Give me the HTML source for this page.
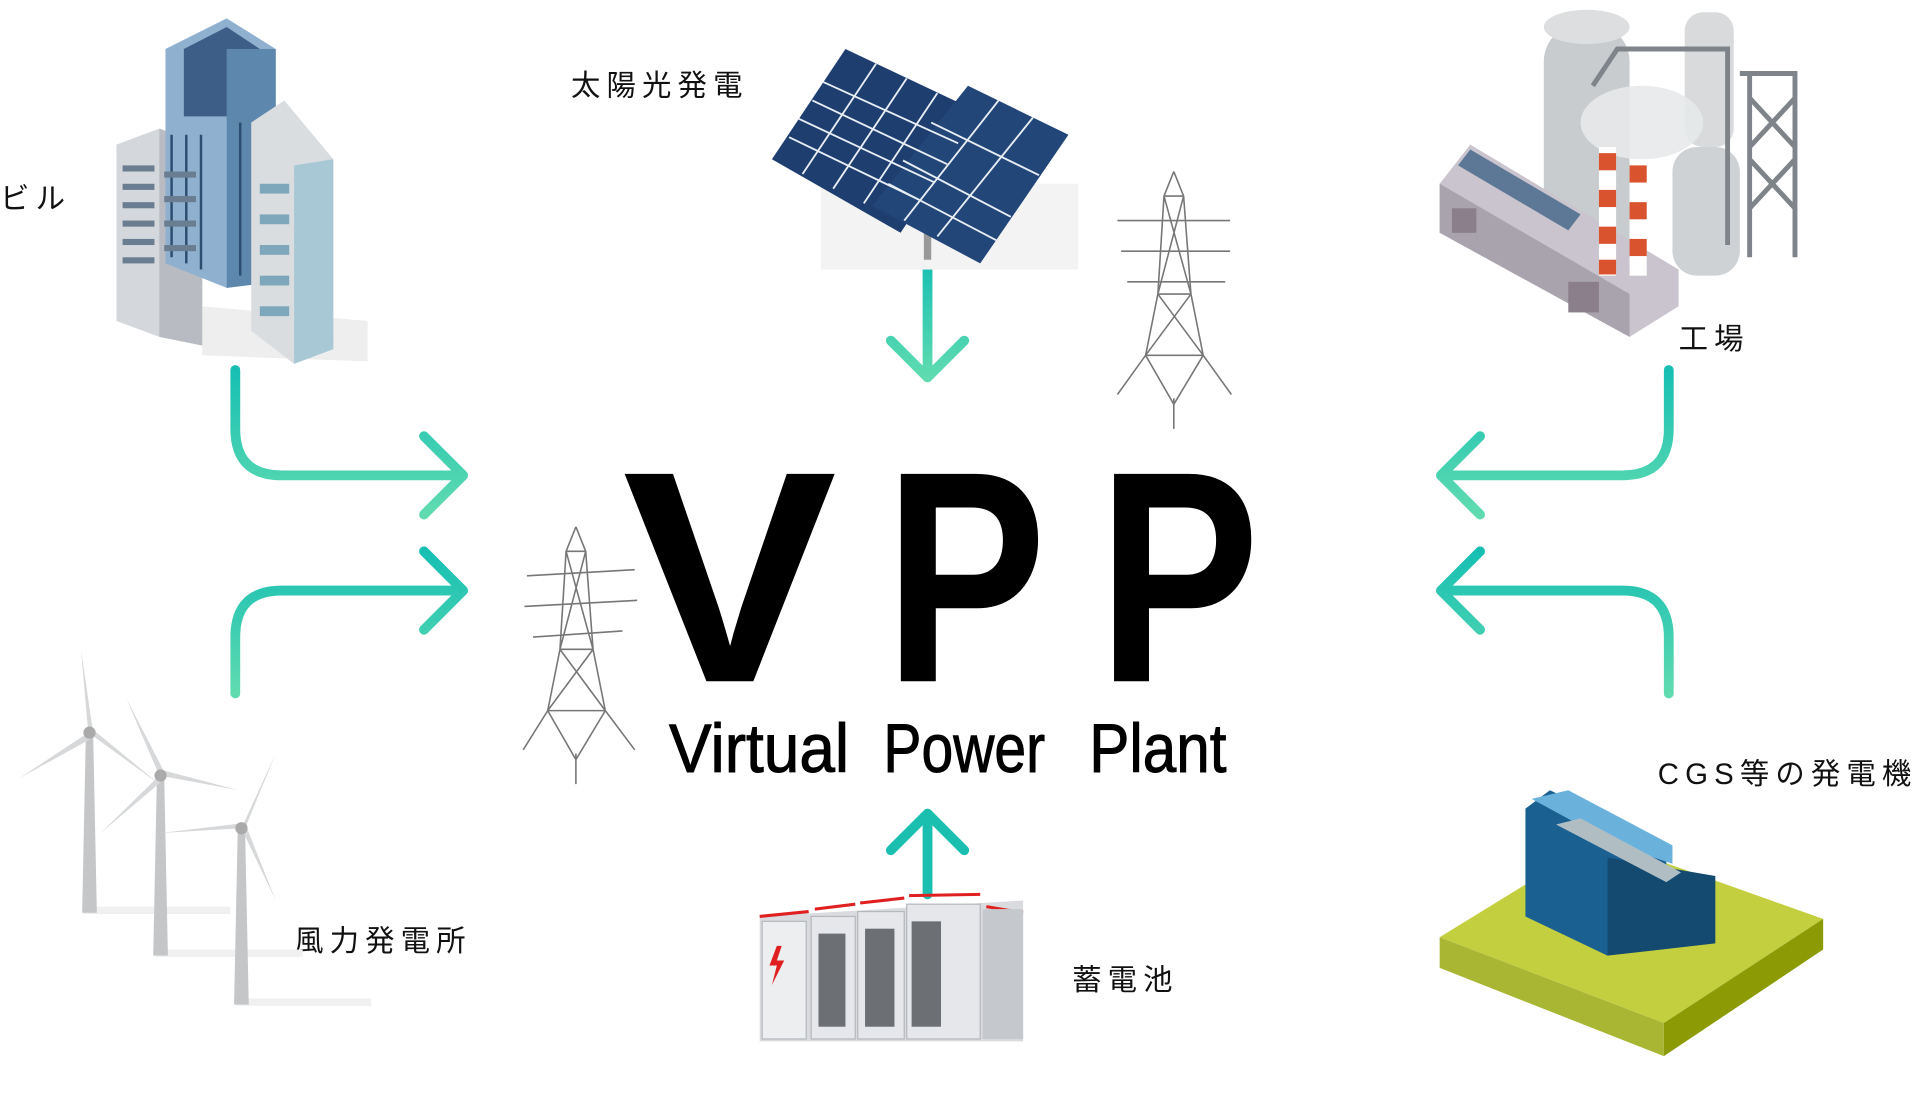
<!DOCTYPE html>
<html><head><meta charset="utf-8"><style>
html,body{margin:0;padding:0;background:#fff;}
svg{display:block;}
.lbl{font-family:"Liberation Sans","Noto Sans CJK JP",sans-serif;font-size:24px;fill:#111;letter-spacing:5px;}
</style></head><body>
<svg width="1920" height="1099" viewBox="0 0 1567 897" xmlns="http://www.w3.org/2000/svg">
<defs>
<linearGradient id="gv" x1="0" y1="0" x2="0" y2="1"><stop offset="0" stop-color="#17bfb3"/><stop offset="1" stop-color="#60dbb0"/></linearGradient>
<linearGradient id="gv2" x1="0" y1="1" x2="0" y2="0"><stop offset="0" stop-color="#60dbb0"/><stop offset="1" stop-color="#17bfb3"/></linearGradient>
</defs>

<g fill="none" stroke-width="8" stroke-linecap="round" stroke-linejoin="round">
<path d="M192 302 V350 Q192 388 230 388 H378 M346 356 L378 388 L346 420" stroke="url(#gv)"/>
<path d="M192 566 V520 Q192 482 230 482 H378 M346 450 L378 482 L346 514" stroke="url(#gv2)"/>
<path d="M1362 302 V350 Q1362 388 1324 388 H1176 M1208 356 L1176 388 L1208 420" stroke="url(#gv)"/>
<path d="M1362 566 V520 Q1362 482 1324 482 H1176 M1208 450 L1176 482 L1208 514" stroke="url(#gv2)"/>
<path d="M757 212 V308 M727 278 L757 308 L787 278" stroke="url(#gv)"/>
<path d="M757 730 V664 M727 694 L757 664 L787 694" stroke="#1bbfb0"/>
</g>

<g font-family="'Liberation Sans',sans-serif" font-weight="bold" fill="#000">
<text x="508" y="556" font-size="246" textLength="175" lengthAdjust="spacingAndGlyphs">V</text>
<text x="722" y="556" font-size="246" textLength="132" lengthAdjust="spacingAndGlyphs">P</text>
<text x="896" y="556" font-size="246" textLength="132" lengthAdjust="spacingAndGlyphs">P</text>
</g>
<g font-family="'Liberation Sans',sans-serif" font-size="56" fill="#000" stroke="#000" stroke-width="0.8">
<text x="546" y="630" textLength="147" lengthAdjust="spacingAndGlyphs">Virtual</text>
<text x="721" y="630" textLength="132" lengthAdjust="spacingAndGlyphs">Power</text>
<text x="889" y="630" textLength="112" lengthAdjust="spacingAndGlyphs">Plant</text>
</g>

<text class="lbl" x="0" y="170">ビル</text>
<text class="lbl" x="466" y="78">太陽光発電</text>
<text class="lbl" x="1370" y="285">工場</text>
<text class="lbl" x="1353" y="640">CGS等の発電機</text>
<text class="lbl" x="240" y="776">風力発電所</text>
<text class="lbl" x="875" y="808">蓄電池</text>

<g>
<polygon points="165,250 300,262 300,295 165,290" fill="#eee"/>
<polygon points="95,118 130,105 165,118 165,282 130,275 95,262" fill="#d4d7db"/>
<polygon points="130,105 165,118 165,282 130,275" fill="#b8bcc2"/>
<polygon points="135,40 185,15 225,40 225,230 185,235 135,215" fill="#8fb1cf"/>
<polygon points="150,40 185,22 212,40 212,95 150,95" fill="#3d5f87"/>
<polygon points="185,40 225,40 225,230 185,235" fill="#5d87ad"/>
<g stroke="#2c4c70" stroke-width="2"><line x1="140" y1="110" x2="140" y2="210"/><line x1="152" y1="110" x2="152" y2="215"/><line x1="164" y1="110" x2="164" y2="220"/><line x1="196" y1="100" x2="196" y2="225"/><line x1="208" y1="100" x2="208" y2="225"/></g>
<polygon points="205,100 232,82 272,130 272,285 240,297 205,270" fill="#d9dde0"/>
<polygon points="240,135 272,130 272,285 240,297" fill="#a9c8d6"/>
<g fill="#6b7d90"><rect x="100" y="135" width="26" height="5"/><rect x="100" y="150" width="26" height="5"/><rect x="100" y="165" width="26" height="5"/><rect x="100" y="180" width="26" height="5"/><rect x="100" y="195" width="26" height="5"/><rect x="100" y="210" width="26" height="5"/><rect x="134" y="140" width="26" height="5"/><rect x="134" y="160" width="26" height="5"/><rect x="134" y="180" width="26" height="5"/><rect x="134" y="200" width="26" height="5"/></g>
<g fill="#7ea7bb"><rect x="212" y="150" width="24" height="8"/><rect x="212" y="175" width="24" height="8"/><rect x="212" y="200" width="24" height="8"/><rect x="212" y="225" width="24" height="8"/><rect x="212" y="250" width="24" height="8"/></g>
</g>

<g>
<rect x="670" y="150" width="210" height="70" fill="#f3f3f3"/>
<rect x="754" y="150" width="6" height="62" fill="#999"/>
<polygon points="630,130 690,40 800,92 735,190" fill="#1f3e70"/>
<polygon points="712,168 790,70 872,110 800,215" fill="#234679"/>
<g stroke="#e8eef5" stroke-width="1.5" fill="none">
<path d="M652,97 L763,149 M672,67 L782,117 M644,112 L752,164 M663,82 L773,134"/>
<path d="M655,142 L715,52 M680,154 L740,64 M705,166 L765,76"/>
<path d="M737,131 L825,177 M760,100 L848,143 M725,150 L813,196"/>
<path d="M738,180 L815,82 M765,193 L843,96"/>
</g>
</g>

<g>
<rect x="1260" y="20" width="70" height="210" rx="30" fill="#c9ccce"/>
<ellipse cx="1295" cy="22" rx="35" ry="14" fill="#dcdedf"/>
<rect x="1365" y="120" width="55" height="105" rx="20" fill="#cfd2d4"/>
<rect x="1375" y="10" width="40" height="110" rx="15" fill="#d8dadb"/>
<g stroke="#7e848a" stroke-width="4" fill="none"><path d="M1420 60 H1465 V210 M1428 60 V210 M1428 80 L1465 120 M1465 80 L1428 120 M1428 130 L1465 170 M1465 130 L1428 170 M1300 70 L1320 40 H1410 V200"/></g>
<ellipse cx="1340" cy="100" rx="50" ry="30" fill="#e7e9ea" opacity="0.9"/>
<polygon points="1175,150 1200,118 1370,220 1370,250 1330,275 1175,190" fill="#c9c4cd"/>
<polygon points="1175,150 1330,240 1330,275 1175,190" fill="#a9a3ad"/>
<polygon points="1190,135 1200,122 1290,175 1280,188" fill="#5c7896"/>
<rect x="1305" y="120" width="14" height="105" fill="#fff"/>
<rect x="1330" y="130" width="14" height="95" fill="#fff"/>
<g fill="#d9532f"><rect x="1305" y="125" width="14" height="14"/><rect x="1305" y="155" width="14" height="14"/><rect x="1305" y="185" width="14" height="14"/><rect x="1305" y="212" width="14" height="12"/><rect x="1330" y="135" width="14" height="14"/><rect x="1330" y="165" width="14" height="14"/><rect x="1330" y="195" width="14" height="14"/></g>
<rect x="1185" y="170" width="20" height="20" fill="#8a7f8a"/>
<rect x="1280" y="230" width="25" height="25" fill="#8a7f8a"/>
</g>

<g stroke="#777" stroke-width="1.3" fill="none">
<path d="M958 140 L950 160 L945 240 L935 290 L912 322 M958 140 L966 160 L972 240 L982 290 L1005 322 M958 325 V350 M935 290 L982 290 M945 240 L972 240 M950 160 L966 160 M912 180 L1004 180 M915 205 L1004 205 M920 230 L1000 230 M950 160 L972 240 M966 160 L945 240 M945 240 L982 290 M972 240 L935 290 M935 290 L958 330 L982 290"/>
</g>
<g stroke="#777" stroke-width="1.3" fill="none">
<path d="M470 430 L462 450 L457 530 L447 580 L427 612 M470 430 L478 450 L484 530 L494 580 L518 612 M470 615 V640 M447 580 L494 580 M457 530 L484 530 M462 450 L478 450 M430 470 L518 465 M428 495 L520 490 M435 520 L508 515 M462 450 L484 530 M478 450 L457 530 M457 530 L494 580 M484 530 L447 580 M447 580 L470 620 L494 580"/>
</g>

<g fill="#d6d8da" stroke="none">
<rect x="68" y="740" width="120" height="6" fill="#f0f0f0"/>
<rect x="127" y="775" width="120" height="6" fill="#f0f0f0"/>
<rect x="193" y="815" width="110" height="6" fill="#f0f0f0"/>
<polygon points="70,600 76,600 79,745 67,745" fill="#c4c6c8"/>
<polygon points="128,635 134,635 137,780 125,780" fill="#c4c6c8"/>
<polygon points="194,678 200,678 203,820 191,820" fill="#c4c6c8"/>
<polygon points="72,598 66,530 76,598"/><polygon points="72,598 16,635 76,602"/><polygon points="72,598 130,640 74,594"/>
<polygon points="130,633 103,570 134,630"/><polygon points="130,633 82,680 134,636"/><polygon points="130,633 195,645 130,628"/>
<polygon points="197,676 225,615 200,676"/><polygon points="197,676 130,680 197,672"/><polygon points="197,676 225,735 200,672"/>
<circle cx="73" cy="598" r="5" fill="#aaa"/><circle cx="131" cy="633" r="5" fill="#aaa"/><circle cx="197" cy="676" r="5" fill="#aaa"/>
</g>

<g>
<polygon points="620,748 835,735 835,850 620,850" fill="#d9dbde"/>
<g stroke="#e02020" stroke-width="2.5"><line x1="620" y1="748" x2="660" y2="744"/><line x1="665" y1="742" x2="698" y2="738"/><line x1="702" y1="737" x2="738" y2="733"/><line x1="742" y1="731" x2="800" y2="730"/><line x1="805" y1="740" x2="835" y2="745"/></g>
<rect x="622" y="752" width="36" height="96" fill="#eceef0" stroke="#b5b8bd"/>
<rect x="662" y="748" width="36" height="100" fill="#e5e7ea" stroke="#b5b8bd"/>
<rect x="700" y="744" width="38" height="104" fill="#e5e7ea" stroke="#b5b8bd"/>
<rect x="740" y="738" width="60" height="110" fill="#e5e7ea" stroke="#b5b8bd"/>
<rect x="802" y="742" width="33" height="106" fill="#c5c8cc"/>
<polygon points="634,772 628,788 634,788 630,804 640,784 634,784 638,772" fill="#e02020"/>
<rect x="668" y="762" width="22" height="76" fill="#6c7075"/>
<rect x="706" y="758" width="24" height="80" fill="#6c7075"/>
<rect x="744" y="752" width="24" height="86" fill="#6c7075"/>
</g>

<g>
<polygon points="1175,765 1305,685 1488,750 1358,835" fill="#c4cf40"/>
<polygon points="1175,765 1358,835 1358,862 1175,790" fill="#a9b634"/>
<polygon points="1358,835 1488,750 1488,775 1358,862" fill="#8c9a05"/>
<polygon points="1245,660 1265,645 1360,690 1360,760 1312,780 1245,748" fill="#1a6090"/>
<polygon points="1312,700 1400,715 1400,770 1312,780" fill="#144a70"/>
<polygon points="1250,652 1280,645 1365,690 1365,705 1320,690" fill="#6ab2dc"/>
<polygon points="1270,673 1360,720 1372,712 1290,668" fill="#b0bec4"/>
</g>
</svg>
</body></html>
